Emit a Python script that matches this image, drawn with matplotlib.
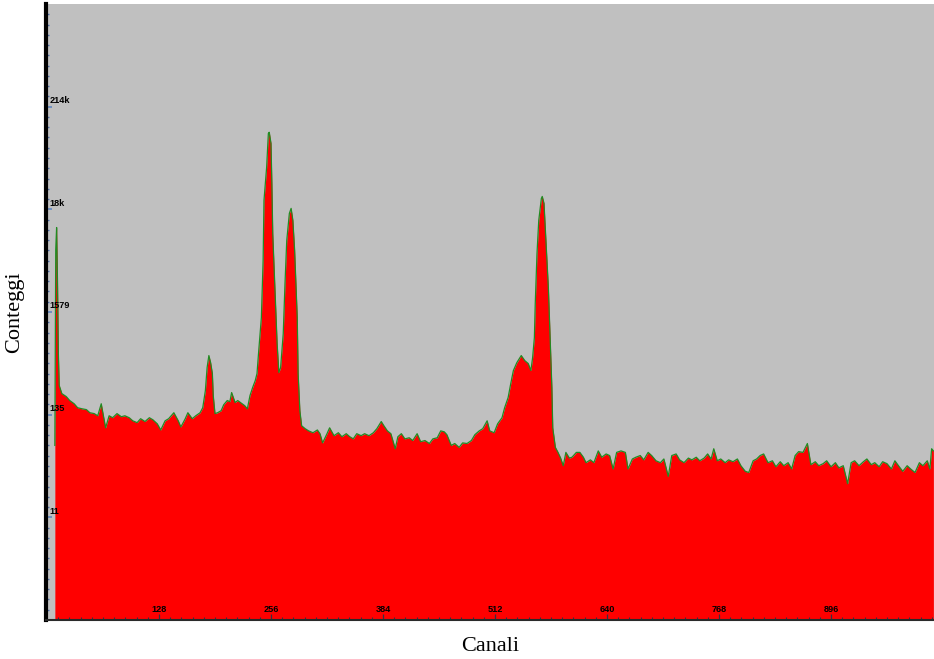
import matplotlib
matplotlib.use("Agg")
import matplotlib.pyplot as plt
from matplotlib.ticker import FixedLocator, NullFormatter

# Channel numbers and counts of the spectrum
channels = [
    9, 10, 11, 12, 13, 14, 17, 22, 26, 31, 35, 40, 45, 49, 54, 58, 62, 64, 67, 71,
    75, 80, 85, 89, 94, 98, 103, 107, 112, 117, 121, 126, 130, 135, 139, 145, 150, 153, 158, 161,
    166, 170, 175, 178, 181, 183, 185, 187, 189, 190, 192, 195, 199, 202, 206, 209, 211, 215, 218, 223,
    226, 229, 232, 235, 238, 240, 242, 245, 246, 247, 248, 251, 253, 254, 256, 257, 258, 261, 263, 265,
    267, 270, 272, 274, 277, 279, 281, 283, 286, 287, 289, 291, 295, 299, 304, 309, 312, 315, 320, 323,
    328, 333, 337, 342, 346, 350, 354, 359, 363, 368, 373, 377, 382, 385, 389, 393, 398, 401, 405, 409,
    414, 418, 423, 427, 432, 437, 441, 446, 450, 454, 457, 462, 466, 471, 475, 480, 485, 489, 494, 498,
    503, 506, 511, 515, 520, 523, 527, 530, 533, 537, 542, 546, 550, 553, 555, 557, 558, 560, 562, 565,
    566, 568, 570, 573, 575, 577, 578, 581, 584, 587, 590, 593, 597, 600, 605, 609, 613, 616, 621, 625,
    630, 634, 639, 643, 647, 651, 656, 661, 664, 669, 673, 678, 682, 687, 691, 696, 701, 705, 710, 714,
    719, 723, 728, 733, 737, 742, 746, 751, 755, 759, 762, 766, 770, 775, 779, 784, 789, 793, 798, 802,
    807, 811, 815, 819, 824, 829, 833, 838, 842, 847, 851, 855, 859, 864, 869, 873, 878, 882, 887, 891,
    896, 901, 905, 910, 915, 919, 923, 928, 933, 937, 942, 946, 951, 955, 960, 965, 969, 974, 978, 983,
    987, 992, 997, 1001, 1006, 1009, 1011, 1013,
]
counts = [
    65, 7000, 11900, 3300, 580, 272, 224, 209, 190, 176, 160, 156, 153, 142, 139, 132, 176, 139, 99, 132,
    126, 139, 129, 132, 126, 117, 112, 123, 115, 126, 120, 109, 94, 117, 123, 142, 117, 101, 123, 142,
    123, 132, 142, 160, 241, 418, 557, 471, 362, 214, 139, 142, 149, 172, 190, 185, 230, 181, 190, 176,
    168, 156, 214, 259, 306, 362, 628, 1380, 2640, 5400, 22800, 50000, 113000, 116000, 89000, 34000, 10300, 2080, 742, 371,
    418, 942, 3100, 8700, 16700, 18800, 14100, 6900, 1380, 362, 149, 104, 97, 92, 88, 94, 86, 69, 86, 99,
    82, 88, 80, 86, 80, 76, 86, 82, 86, 82, 88, 97, 115, 104, 92, 86, 60, 80, 86, 76,
    78, 73, 86, 71, 73, 68, 76, 78, 92, 90, 84, 65, 68, 62, 69, 68, 73, 84, 92, 97,
    117, 92, 88, 109, 126, 160, 204, 285, 389, 471, 557, 494, 460, 389, 531, 857, 1930, 6400, 14100, 23900,
    25000, 21200, 9400, 2800, 857, 259, 99, 62, 55, 48, 40, 55, 48, 49, 55, 55, 49, 43, 46, 43,
    57, 49, 53, 51, 37, 55, 57, 55, 37, 47, 49, 51, 46, 55, 51, 45, 43, 47, 31, 51,
    53, 46, 43, 48, 46, 49, 45, 48, 53, 47, 60, 45, 47, 43, 46, 44, 47, 40, 35, 34,
    45, 47, 51, 53, 43, 45, 39, 44, 40, 43, 37, 51, 56, 55, 68, 41, 44, 40, 42, 45,
    39, 43, 38, 40, 26, 43, 45, 40, 44, 47, 41, 43, 39, 44, 42, 37, 45, 39, 35, 40,
    37, 34, 43, 40, 45, 37, 60, 57,
]

# Axis annotations
y_tick_labels = ["11", "135", "1579", "18k", "214k"]
x_ticks = [128, 256, 384, 512, 640, 768, 896]
x_title = "Canali"
y_title = "Conteggi"

# Logarithmic count axis divided into six equal steps
step_base = 11.6425
n_steps = 6

W, H = 934, 659
fig = plt.figure(figsize=(W / 100, H / 100), dpi=100)
fig.patch.set_facecolor("white")
ax = fig.add_axes([45.5 / W, 39 / H, (W - 45.5) / W, 616 / H])
ax.set_facecolor("#c0c0c0")

ax.fill_between(channels, counts, 1, color="#ff0000", linewidth=0, zorder=1)
ax.plot(channels, counts, color="#228b22", linewidth=0.9, zorder=2)

ax.set_yscale("log")
ax.set_ylim(1, step_base ** n_steps)
ax.set_xlim(-1.7, 1013.7)

# Spines
for side in ("top", "right"):
    ax.spines[side].set_visible(False)
ax.spines["left"].set_linewidth(3.0)
ax.spines["left"].set_color("#000000")
ax.spines["bottom"].set_linewidth(1.5)
ax.spines["bottom"].set_color("#2a2a2a")

# Y ticks: major at each step, minor at tenths of a step
y_major = [step_base ** k for k in range(1, n_steps)]
y_minor = [step_base ** (j / 10) for j in range(0, n_steps * 10 + 1) if j % 10]
ax.yaxis.set_major_locator(FixedLocator(y_major))
ax.yaxis.set_minor_locator(FixedLocator(y_minor))
ax.yaxis.set_major_formatter(NullFormatter())
ax.yaxis.set_minor_formatter(NullFormatter())
ax.tick_params(axis="y", which="major", direction="in", length=4.5, width=1.4,
               color="#6f8fc0", left=True, right=False)
ax.tick_params(axis="y", which="minor", direction="in", length=2.2, width=1.0,
               color="#4f6fa8", left=True, right=False)

# X ticks: major every 128 channels, minor every 12.8
ax.xaxis.set_major_locator(FixedLocator(x_ticks))
ax.xaxis.set_minor_locator(FixedLocator([i * 12.8 for i in range(1, 80)]))
ax.xaxis.set_major_formatter(NullFormatter())
ax.tick_params(axis="x", which="major", direction="in", length=4.0, width=0.9,
               color="#333344", bottom=True, top=False)
ax.tick_params(axis="x", which="minor", direction="in", length=2.2, width=0.8,
               color="#333344", bottom=True, top=False)

label_font = dict(family="Liberation Sans", fontsize=6.6, fontweight="bold", color="black")
for val, lab in zip(y_major, y_tick_labels):
    ax.annotate(lab, xy=(0, val), xycoords=("axes fraction", "data"),
                xytext=(4, 6), textcoords="offset pixels",
                ha="left", va="center", **label_font)
for val in x_ticks:
    ax.annotate(str(val), xy=(val, 0), xycoords=("data", "axes fraction"),
                xytext=(0, 10), textcoords="offset pixels",
                ha="center", va="center", **label_font)

title_font = dict(family="Liberation Serif", fontsize=16)
ax.set_xlabel(x_title, labelpad=9, **title_font)
ax.set_ylabel(y_title, labelpad=12, **title_font)

fig.savefig("out.png", dpi=100)
